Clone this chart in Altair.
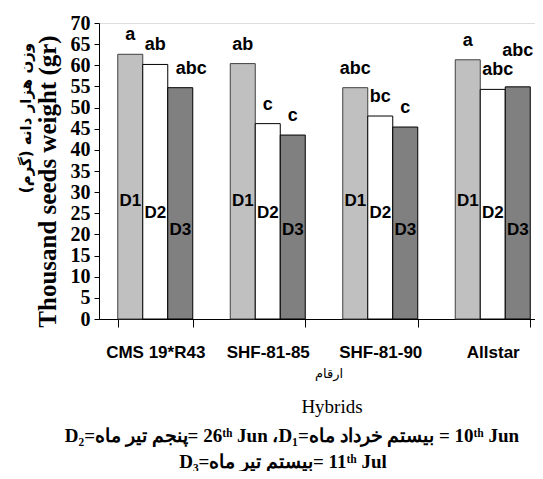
import altair as alt
import pandas as pd

hybrids = ["CMS 19*R43", "SHF-81-85", "SHF-81-90", "Allstar"]
dates = ["D1", "D2", "D3"]
d1_values = [62.6, 60.4, 54.7, 61.3]
d2_values = [60.2, 46.2, 48.0, 54.3]
d3_values = [54.7, 43.5, 45.4, 54.9]
d1_letters = ["a", "ab", "abc", "a"]
d2_letters = ["ab", "c", "bc", "abc"]
d3_letters = ["abc", "c", "c", "abc"]
y_ticks = list(range(0, 75, 5))

rows = []
for i, h in enumerate(hybrids):
    for d, vals, lets in zip(dates, [d1_values, d2_values, d3_values],
                             [d1_letters, d2_letters, d3_letters]):
        rows.append({"hybrid": h, "date": d, "value": vals[i], "letter": lets[i]})
df = pd.DataFrame(rows)

LRM = "\u200e"
RLM = "\u200f"
y_title_en = "Thousand seeds weight (gr)"
y_title_fa = RLM + "وزن هزار دانه (گرم)" + RLM
x_title_fa = "ارقام"
x_title_en = "Hybrids"
note1 = "D₂=" + "پنجم تیر ماه" + LRM + "= 26ᵗʰ Jun ،D₁=" + "بیستم خرداد ماه" + LRM + " = 10ᵗʰ Jun"
note2 = "D₃=" + "بیستم تیر ماه" + LRM + "= 11ᵗʰ Jul"

SANS = "Liberation Sans"
SERIF = "Liberation Serif"

y_axis = alt.Axis(values=y_ticks, labelFont=SERIF, labelFontWeight="bold",
                  labelFontSize=20, labelColor="black", labelOverlap=False,
                  labelBound=False, labelFlush=False,
                  tickSize=5, tickColor="black", domainColor="black",
                  labelPadding=4, grid=False,
                  titleFont=SERIF, titleFontWeight="bold", titleFontSize=25,
                  titleColor="black", titleAngle=270, titleX=-52, titleY=158,
                  titleAlign="center", titleBaseline="middle")
x_axis = alt.Axis(title=None, labelAngle=0, labelFont=SANS, labelFontWeight="bold",
                  labelFontSize=17, labelColor="black", tickBand="extent", tickSize=8,
                  tickColor="black", domainColor="black", labelPadding=17, grid=False)
x_scale = alt.Scale(range=[0, 450], paddingInner=1/3, paddingOuter=1/6)
y_scale = alt.Scale(domain=[0, 70], nice=False)


def X():
    return alt.X("hybrid:N", sort=hybrids, scale=x_scale, axis=x_axis)


def Y(field):
    return alt.Y(field, scale=y_scale, title=y_title_en, axis=y_axis)


xoff = alt.XOffset("date:N", sort=dates, scale=alt.Scale(paddingInner=0, paddingOuter=0))

base = alt.Chart(df)

bars = base.mark_bar().encode(
    x=X(), xOffset=xoff, y=Y("value:Q"),
    fill=alt.Fill("date:N", scale=alt.Scale(domain=dates, range=["#C0C0C0", "#FFFFFF", "#808080"]), legend=None),
    stroke=alt.Stroke("date:N", scale=alt.Scale(domain=dates, range=["#404040", "#000000", "#000000"]), legend=None),
    strokeWidth=alt.StrokeWidth("date:N", scale=alt.Scale(domain=dates, range=[1, 1, 2.5]), legend=None),
)

letters = base.transform_calculate(
    label_y="datum.hybrid === 'Allstar' && datum.date === 'D3' ? datum.value + 4 : datum.value",
    shift="datum.hybrid === 'CMS 19*R43' && datum.date === 'D3' ? 1 : (datum.hybrid === 'Allstar' && datum.date === 'D2' ? 2 : (datum.hybrid === 'Allstar' && datum.date === 'D3' ? 3 : 0))",
)


def letter_layer(shift, dx):
    return letters.transform_filter(f"datum.shift === {shift}").mark_text(
        font=SANS, fontWeight="bold", fontSize=18, color="black",
        baseline="alphabetic", dy=-14, dx=dx,
    ).encode(x=X(), xOffset=xoff, y=Y("label_y:Q"), text="letter:N")


inner = base.transform_calculate(
    in_y="datum.date === 'D1' ? 27.9 : (datum.date === 'D2' ? 25.0 : 21.0)"
).mark_text(
    font=SANS, fontWeight="bold", fontSize=17, color="black", baseline="middle",
).encode(x=X(), xOffset=xoff, y=Y("in_y:Q"), text="date:N")

one = alt.Data(values=[{}])


def deco(text, x, y, **kw):
    return alt.Chart(one).mark_text(text=text, color="black", **kw).encode(
        x=alt.value(x), y=alt.value(y))


t_fa_y = deco(y_title_fa, -73, 95, angle=270, font="DejaVu Sans", fontWeight="bold",
              fontSize=15, align="center", baseline="middle")
t_fa_x = deco(x_title_fa, 230, 351, font="DejaVu Sans", fontSize=13,
              align="center", baseline="middle")
t_hyb = deco(x_title_en, 233, 384, font=SERIF, fontSize=19, align="center", baseline="middle")
t_n1 = deco(note1, 193, 413, font=SERIF, fontWeight="bold", fontSize=19,
            align="center", baseline="middle")
t_n2 = deco(note2, 184, 439, font=SERIF, fontWeight="bold", fontSize=19,
            align="center", baseline="middle")

chart = alt.layer(bars, letter_layer(0, 0), letter_layer(1, 11), letter_layer(2, 5),
                  letter_layer(3, 0), inner,
                  t_fa_y, t_fa_x, t_hyb, t_n1, t_n2).properties(
    width=436, height=296,
    autosize=alt.AutoSizeParams(type="none"),
    padding={"left": 91, "top": 15, "right": 0, "bottom": 152},
).configure_view(stroke=None).configure(background="white")

chart.save("out.html", embed_options={"renderer": "svg", "actions": False})
